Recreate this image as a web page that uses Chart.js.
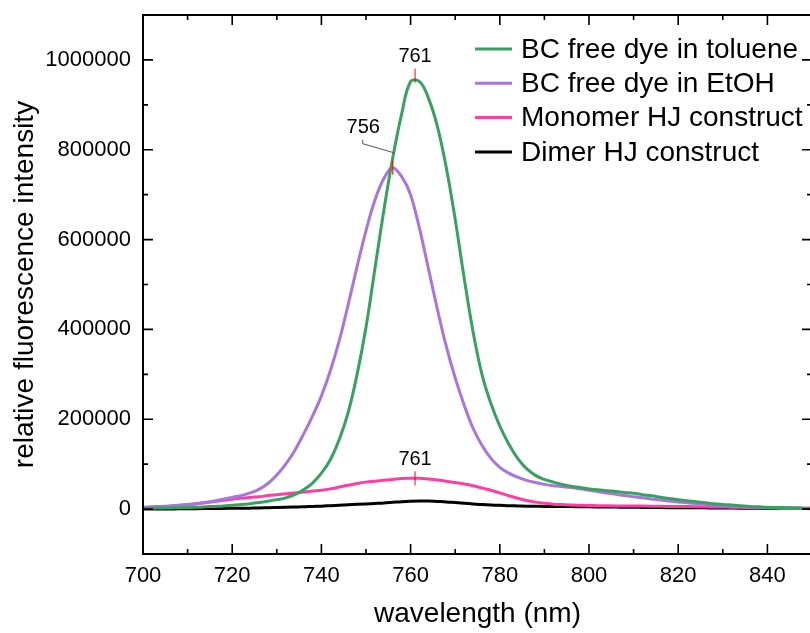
<!DOCTYPE html>
<html><head><meta charset="utf-8">
<script src="https://cdn.jsdelivr.net/npm/chart.js@4"></script>
<style>html,body{margin:0;padding:0;overflow:hidden;background:#fff}#wrap{width:812px;height:633px;position:relative}</style>
</head><body><div id="wrap"><canvas id="c"></canvas></div>
<script>
const wavelengths = [700,702,704,706,708,710,712,714,716,718,720,722,724,726,728,730,732,734,736,738,740,742,744,746,748,750,752,754,756,758,760,762,764,766,768,770,772,774,776,778,780,782,784,786,788,790,792,794,796,798,800,802,804,806,808,810,812,814,816,818,820,822,824,826,828,830,832,834,836,838,840,842,844,846,848,850];
const tolueneDye = [2000,2000,2500,2500,3000,3500,4000,5000,6000,7000,8500,10000,12000,14500,17500,21000,25000,32000,43000,58000,80000,110000,155000,215000,300000,405000,535000,665000,782000,880000,952000,952000,915000,852000,760000,645000,515000,395000,300000,235000,185000,145000,113000,90000,75000,66000,60000,55000,51000,48000,45000,43000,41000,39000,37000,35000,32000,29500,26500,23500,21000,18500,16500,14000,12000,10000,9000,7500,6000,5000,4000,3500,3000,2500,2000,2000];
const ethanolDye = [4000,5000,6000,7000,8500,10000,12000,15000,18000,22000,26000,30000,36000,44000,57000,76000,100000,130000,167000,207000,252000,308000,375000,455000,540000,620000,688000,736000,760000,740000,700000,625000,535000,445000,362000,292000,232000,180000,142000,113000,93000,80000,71000,64000,59000,55000,52000,50000,48000,45000,42000,39000,36000,33000,30000,27500,25000,22500,20000,18000,16000,14000,12500,11000,9000,7500,6000,5000,4000,3500,3000,2500,2000,2000,1500,1500];
const monomerHJ = [3000,4000,5000,6500,8000,10000,12000,14000,17000,19500,22000,24000,26000,27500,30000,32000,34000,36000,38000,40000,42000,45000,49000,53000,57000,60000,62000,64000,66000,68000,68500,68500,67000,65000,62000,59000,56000,52000,47000,42000,36000,30000,24000,19000,15500,13000,11000,10000,9000,8500,8000,7500,7200,7000,6900,6800,6600,6400,6200,6000,5800,5600,5400,5000,4800,4500,4200,4000,3700,3300,3000,2800,2500,2300,2000,2000];
const dimerHJ = [0,0,200,400,500,700,900,1100,1300,1500,1700,1900,2100,2400,3000,3500,4000,4500,5000,6000,6500,7500,8500,9500,10500,11500,12500,13500,15000,16500,17500,18000,18000,17000,16000,14500,13000,11500,10000,9000,8500,7500,7000,6500,6500,6000,6000,5500,5500,5000,5000,4800,4600,4400,4200,4000,3800,3600,3400,3200,3000,2900,2800,2700,2600,2500,2300,2100,1900,1700,1500,1400,1300,1200,1100,1000];
const seriesLabels = ['BC free dye in toluene','BC free dye in EtOH','Monomer HJ construct','Dimer HJ construct'];
const seriesColors = ['#35a35f','#a874e0','#ff3ea5','#000000'];
const xTickValues = [700,720,740,760,780,800,820,840];
const yTickValues = [0,200000,400000,600000,800000,1000000];
const peakWavelengths = [761,756,761];
const peakIntensities = [965000,760000,68500];
const peakTexts = ['761','756','761'];

const FONT = "'Liberation Sans', Arial, Helvetica, sans-serif";
const allSeries = [tolueneDye, ethanolDye, monomerHJ, dimerHJ];

const framePlugin = {
  id:'frame',
  afterDatasetsDraw(chart){
    const {ctx, chartArea:a, scales:{x,y}} = chart;
    ctx.save();
    ctx.strokeStyle='#000'; ctx.lineWidth=2;
    ctx.strokeRect(a.left, a.top, a.right-a.left, a.bottom-a.top);
    ctx.lineWidth=1.6;
    const xs=[]; for (let v=700; v<=850; v+=10) xs.push(v);
    xs.forEach(v=>{
      const p=x.getPixelForValue(v); const L = (v%20===0)?10:5;
      ctx.beginPath(); ctx.moveTo(p,a.bottom); ctx.lineTo(p,a.bottom-L);
      ctx.moveTo(p,a.top); ctx.lineTo(p,a.top+L); ctx.stroke();
    });
    const ys=[]; for (let v=-100000; v<=1100000; v+=100000) ys.push(v);
    ys.forEach(v=>{
      const p=y.getPixelForValue(v); const L = (Math.abs(v)%200000===0)?10:5;
      ctx.beginPath(); ctx.moveTo(a.left,p); ctx.lineTo(a.left+L,p);
      ctx.moveTo(a.right,p); ctx.lineTo(a.right-L,p); ctx.stroke();
    });
    ctx.restore();
  }
};

const annotPlugin = {
  id:'annot',
  afterDatasetsDraw(chart){
    const {ctx, scales:{x,y}} = chart;
    ctx.save();
    ctx.font = "20px " + FONT; ctx.fillStyle='#000'; ctx.textAlign='center'; ctx.textBaseline='middle';
    peakWavelengths.forEach((w,i)=>{
      const px = x.getPixelForValue(w), py = y.getPixelForValue(peakIntensities[i]);
      ctx.strokeStyle='#ff0000'; ctx.lineWidth=1;
      ctx.beginPath(); ctx.moveTo(px, py-7); ctx.lineTo(px, py+7); ctx.stroke();
      if (i===1){
        ctx.strokeStyle='#555'; ctx.lineWidth=1;
        ctx.beginPath(); ctx.moveTo(px-30, py-28); ctx.lineTo(px-30, py-24); ctx.lineTo(px+1, py-15); ctx.stroke();
        ctx.fillText(peakTexts[i], px-29.5, py-40);
      } else {
        ctx.fillText(peakTexts[i], px, py-19);
      }
    });
    ctx.restore();
  }
};

const legendPlugin = {
  id:'legendBox',
  afterDraw(chart){
    const {ctx} = chart;
    ctx.save();
    ctx.font = "28px " + FONT; ctx.textAlign='left'; ctx.textBaseline='middle';
    chart.data.datasets.forEach((ds,i)=>{
      const yy = 49 + i*34.3;
      ctx.strokeStyle = ds.borderColor; ctx.lineWidth=3;
      ctx.beginPath(); ctx.moveTo(475,yy); ctx.lineTo(512,yy); ctx.stroke();
      ctx.fillStyle='#000'; ctx.fillText(ds.label, 521, yy+1);
    });
    ctx.restore();
  }
};

new Chart(document.getElementById('c'), {
  type:'line',
  data:{
    datasets: allSeries.map((arr,i)=>({
      label: seriesLabels[i],
      data: wavelengths.map((w,j)=>({x:w, y:arr[j]})),
      borderColor: seriesColors[i],
      borderWidth: 3,
      pointRadius: 0,
      fill:false,
      tension: i===0 ? 0.4 : 0,
      cubicInterpolationMode: i===0 ? 'default' : 'monotone'
    }))
  },
  options:{
    responsive:true, maintainAspectRatio:false, animation:false,
    layout:{padding:{top:15,right:0,bottom:0,left:0}},
    plugins:{legend:{display:false}, tooltip:{enabled:false}},
    scales:{
      x:{
        type:'linear', min:700, max:850,
        grid:{display:false, drawTicks:false}, border:{display:false},
        afterBuildTicks: s => { s.ticks = xTickValues.map(v=>({value:v})); },
        afterFit: s => { s.height = 79; s.paddingLeft = 0; s.paddingRight = 0; },
        ticks:{font:{family:FONT, size:22}, color:'#000', padding:9, maxRotation:0, autoSkip:false, callback:v=>String(v)},
        title:{display:true, text:'wavelength (nm)', font:{family:FONT, size:28}, color:'#000', padding:{top:0,bottom:2}}
      },
      y:{
        type:'linear', min:-100000, max:1100000,
        grid:{display:false, drawTicks:false}, border:{display:false},
        afterBuildTicks: s => { s.ticks = yTickValues.map(v=>({value:v})); },
        afterFit: s => { s.width = 143; s.paddingTop = 0; s.paddingBottom = 0; },
        ticks:{font:{family:FONT, size:22}, color:'#000', padding:12, autoSkip:false, callback:v=>String(v)},
        title:{display:true, text:'relative fluorescence intensity', font:{family:FONT, size:28}, color:'#000', padding:{top:8,bottom:0}}
      }
    }
  },
  plugins:[framePlugin, annotPlugin, legendPlugin]
});
</script></body></html>
